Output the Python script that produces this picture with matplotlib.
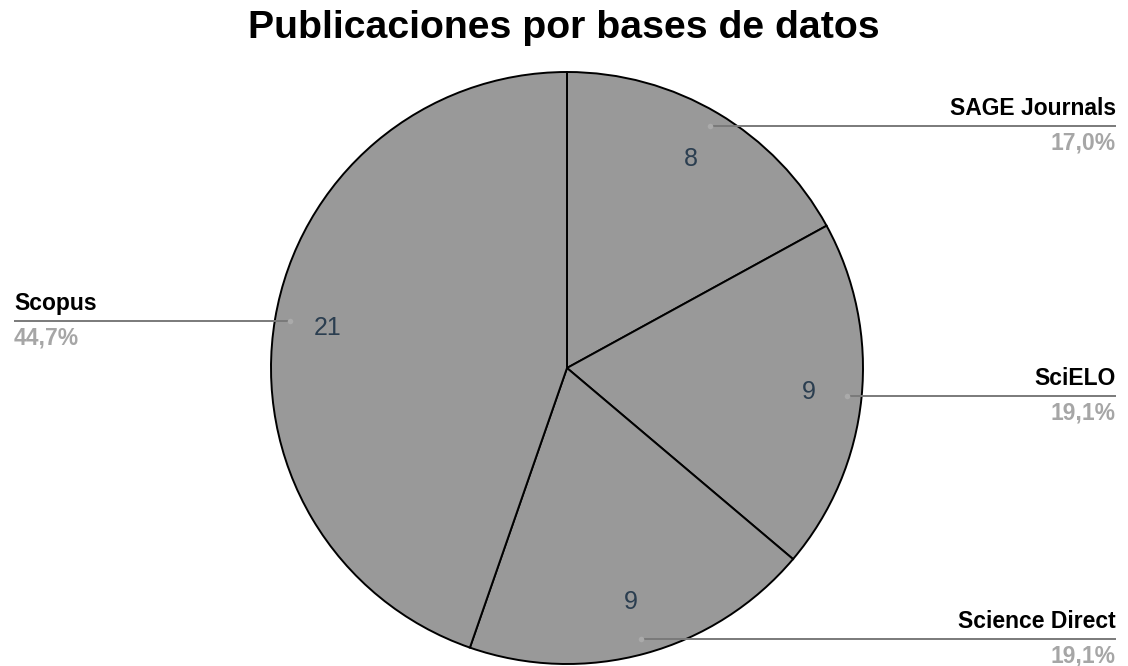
import numpy as np
import matplotlib
matplotlib.use("Agg")
from matplotlib import pyplot as plt

plt.rcParams['font.family'] = ['Liberation Sans', 'DejaVu Sans']

bases = ["SAGE Journals", "SciELO", "Science Direct", "Scopus"]
publicaciones = [8, 9, 9, 21]
porcentajes = ["17,0%", "19,1%", "19,1%", "44,7%"]

W, H = 1128, 666
fig = plt.figure(figsize=(W / 100, H / 100), dpi=100)
ax = fig.add_axes([0, 0, 1, 1])
ax.axis('off')

cx, cy, r = 567, H - 368, 296

wedges, texts = ax.pie(publicaciones, center=(cx, cy), radius=r,
                       startangle=90, counterclock=False,
                       colors=['#999999'] * 4,
                       wedgeprops=dict(edgecolor='black', linewidth=1.4),
                       labels=[str(v) for v in publicaciones],
                       labeldistance=0.82,
                       textprops=dict(color='#2b3e50', fontsize=18))
for t in texts:
    t.set_ha('center')
    t.set_va('center')
ax.set_xlim(0, W)
ax.set_ylim(0, H)
ax.set_aspect('auto')

total = sum(publicaciones)
acum = 0
for nombre, v, pct in zip(bases, publicaciones, porcentajes):
    mid = (acum + v / 2) / total * 2 * np.pi
    acum += v
    px = cx + 0.95 * r * np.sin(mid)
    py = cy + 0.95 * r * np.cos(mid)
    if np.sin(mid) >= 0:
        xend, ha = 1116, 'right'
    else:
        xend, ha = 14, 'left'
    ax.plot([px, xend], [py, py], color='#7a7a7a', lw=1.4,
            solid_capstyle='butt')
    ax.plot([px], [py], 'o', color='#aaaaaa', ms=4, mec='none')
    ax.text(xend, py + 6, nombre, ha=ha, va='bottom',
            fontsize=16.5, fontweight='bold', color='black')
    ax.text(xend, py - 5, pct, ha=ha, va='top',
            fontsize=16.5, fontweight='bold', color='#a6a6a6')

ax.text(W / 2, H - 28, "Publicaciones por bases de datos", ha='center',
        va='center', fontsize=28.3, fontweight='bold', color='black')

fig.savefig("out.png", dpi=100)
